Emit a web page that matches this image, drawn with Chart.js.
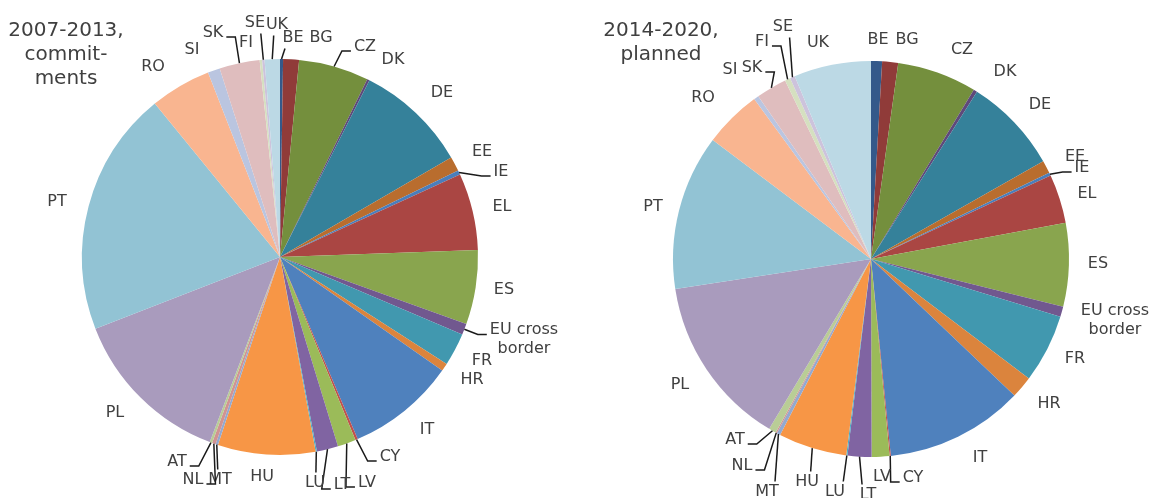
<!DOCTYPE html>
<html>
<head>
<meta charset="utf-8">
<script src="https://cdn.jsdelivr.net/npm/chart.js@4.4.1/dist/chart.umd.min.js"></script>
<style>
  body { margin: 0; background: #fff; }
  .wrap { position: absolute; top: 0; height: 498px; }
</style>
</head>
<body>
<div class="wrap" style="left:0;width:575px"><canvas id="left"></canvas></div>
<div class="wrap" style="left:575px;width:576px"><canvas id="right"></canvas></div>
<script>
// member states, clockwise from 12 o'clock
var countries = ['BE', 'BG', 'CZ', 'DK', 'DE', 'EE', 'IE', 'EL', 'ES', 'EU cross border',
  'FR', 'HR', 'IT', 'CY', 'LV', 'LT', 'LU', 'HU', 'MT', 'NL', 'AT', 'PL', 'PT', 'RO',
  'SI', 'SK', 'FI', 'SE', 'UK'];

// shares in %
var commitments0713 = [0.25, 1.3, 5.75, 0.2, 9.2, 1.2, 0.35, 6.3, 6.1, 0.9,
  2.7, 0.65, 8.9, 0.2, 1.5, 1.75, 0.1, 8.0, 0.2, 0.3, 0.2, 13.4, 20.1, 5.0,
  1.0, 3.3, 0.2, 0.2, 1.25];
var planned1420 = [0.9, 1.3, 6.5, 0.3, 7.8, 1.05, 0.25, 4.0, 6.8, 0.85,
  5.6, 1.8, 11.3, 0.1, 1.45, 1.95, 0.1, 5.6, 0.3, 0.1, 0.6, 14.0, 12.7, 4.7,
  0.4, 2.5, 0.45, 0.4, 6.3];

var sliceColors = [
  '#34598a', '#903b39', '#748f3d', '#5f497a', '#35819a', '#b96d2e', // darker
  '#4a7ebb', '#aa4643', '#89a54e', '#71588f', '#4198af', '#db843d', // base
  '#4f81bd', '#c0504d', '#9bbb59', '#8064a2', '#4bacc6', '#f79646',
  '#93a9cf', '#d19392', '#b9cd96', '#a99bbd', '#92c3d4', '#f9b590', // light
  '#bac5e0', '#dfbdbe', '#d5e0c0', '#cdc3dc', '#bcd9e5'
];

// label centres relative to the pie centre
var leftLabelPos = {
  'BE': [13, -219], 'BG': [41, -219], 'CZ': [85, -210], 'DK': [113, -197], 'DE': [162, -164],
  'EE': [202, -105], 'IE': [221, -85], 'EL': [222, -50], 'ES': [224, 33],
  'EU cross border': [244, 82], 'FR': [202, 104], 'HR': [192, 123], 'IT': [147, 173],
  'CY': [110, 200], 'LV': [87, 226], 'LT': [62, 228], 'LU': [35, 226], 'HU': [-18, 220],
  'MT': [-60, 223], 'NL': [-87, 223], 'AT': [-103, 205], 'PL': [-165, 156], 'PT': [-223, -55],
  'RO': [-127, -190], 'SI': [-88, -207], 'SK': [-67, -224], 'FI': [-34, -214],
  'SE': [-25, -234], 'UK': [-3, -232]
};
var rightLabelPos = {
  'BE': [7, -219], 'BG': [36, -219], 'CZ': [91, -209], 'DK': [134, -187], 'DE': [169, -154],
  'EE': [204, -102], 'IE': [211, -91], 'EL': [216, -65], 'ES': [227, 5],
  'EU cross border': [244, 61], 'FR': [204, 100], 'HR': [178, 145], 'IT': [109, 199],
  'CY': [42, 219], 'LV': [11, 218], 'LT': [-3, 236], 'LU': [-36, 233], 'HU': [-64, 223],
  'MT': [-104, 233], 'NL': [-129, 207], 'AT': [-136, 181], 'PL': [-191, 126], 'PT': [-218, -52],
  'RO': [-168, -161], 'SI': [-141, -189], 'SK': [-119, -191], 'FI': [-109, -217],
  'SE': [-88, -232], 'UK': [-53, -216]
};
var leftLeaders = ['SE', 'UK', 'BE', 'CZ', 'SK', 'IE', 'EU cross border', 'AT', 'NL', 'MT', 'LU', 'LT', 'LV', 'CY'];
var rightLeaders = ['SK', 'FI', 'SE', 'IE', 'AT', 'NL', 'MT', 'HU', 'LU', 'LT', 'CY'];

var wrapped = { 'EU cross border': ['EU cross', 'border'] };

var outsideLabels = {
  id: 'outsideLabels',
  afterDatasetsDraw: function (chart, args, opts) {
    var ctx = chart.ctx;
    var arcs = chart.getDatasetMeta(0).data;
    var labels = chart.data.labels;
    ctx.save();
    ctx.font = '16px "DejaVu Sans"';
    ctx.textAlign = 'center';
    ctx.textBaseline = 'middle';
    arcs.forEach(function (arc, i) {
      var p = arc.getProps(['x', 'y', 'startAngle', 'endAngle', 'outerRadius'], true);
      var name = labels[i];
      var off = opts.positions[name];
      var lx = p.x + off[0], ly = p.y + off[1];
      var lines = wrapped[name] || [name];
      var lh = 19;
      var w = 0;
      lines.forEach(function (t) { w = Math.max(w, ctx.measureText(t).width); });
      var h = lines.length * lh;

      if (opts.leaders.indexOf(name) >= 0) {
        var mid = (p.startAngle + p.endAngle) / 2;
        var ex = p.x + Math.cos(mid) * p.outerRadius;
        var ey = p.y + Math.sin(mid) * p.outerRadius;
        ctx.strokeStyle = '#1a1a1a';
        ctx.lineWidth = 1.5;
        ctx.beginPath();
        ctx.moveTo(ex, ey);
        if (Math.abs(ex - lx) > w / 2 + 4) {
          var side = ex < lx ? -1 : 1;
          var ax = lx + side * (w / 2 + 3);
          var ay = lines.length > 1 ? ly - lh / 2 + 5 : ly + 4;
          ctx.lineTo(ax + side * 9, ay);
          ctx.lineTo(ax, ay);
        } else {
          var vy = ey < ly ? ly - h / 2 - 1 : ly + h / 2 + 1;
          ctx.lineTo(ex + (lx - ex) * 0.3, vy);
        }
        ctx.stroke();
      }

      ctx.fillStyle = '#404040';
      lines.forEach(function (t, k) {
        ctx.fillText(t, lx, ly - h / 2 + lh / 2 + k * lh);
      });
    });

    // period caption
    ctx.font = '20px "DejaVu Sans"';
    ctx.fillStyle = '#404040';
    opts.title.lines.forEach(function (t, k) {
      ctx.fillText(t, opts.title.x, opts.title.y + k * 24);
    });
    ctx.restore();
  }
};

function makePie(id, values, padding, positions, leaders, title) {
  return new Chart(document.getElementById(id), {
    type: 'pie',
    data: {
      labels: countries,
      datasets: [{ data: values, backgroundColor: sliceColors, borderWidth: 0 }]
    },
    options: {
      responsive: true,
      maintainAspectRatio: false,
      animation: false,
      layout: { padding: padding },
      plugins: {
        legend: { display: false },
        tooltip: { enabled: false },
        outsideLabels: { positions: positions, leaders: leaders, title: title }
      }
    },
    plugins: [outsideLabels]
  });
}

makePie('left', commitments0713, { left: 82, right: 97, top: 59, bottom: 43 },
  leftLabelPos, leftLeaders, { lines: ['2007-2013,', 'commit-', 'ments'], x: 66, y: 31 });
makePie('right', planned1420, { left: 98, right: 82, top: 61, bottom: 41 },
  rightLabelPos, rightLeaders, { lines: ['2014-2020,', 'planned'], x: 86, y: 31 });
</script>
</body>
</html>
